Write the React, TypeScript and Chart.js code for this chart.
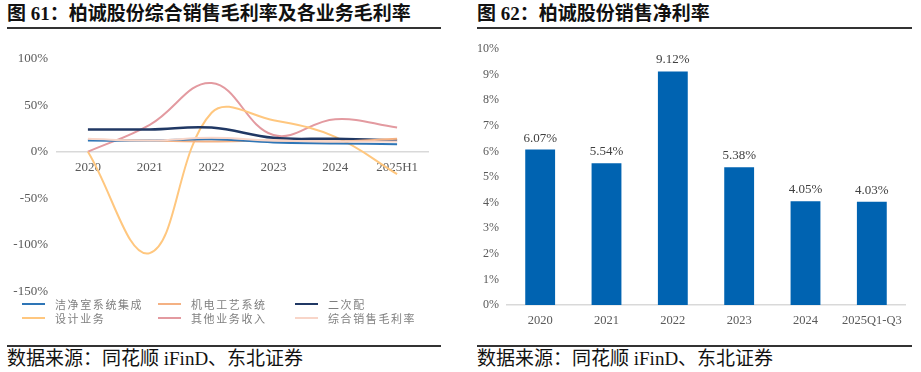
import React, { useEffect, useRef } from "react";
import { Chart, registerables } from "chart.js";

Chart.register(...registerables);

// ---- Left chart data (毛利率, %) ----
const lineCategories = ["2020", "2021", "2022", "2023", "2024", "2025H1"];
const cleanRoom = [12, 12, 13.5, 10, 9, 8];
const mepProcess = [13, 12, 11, 12, 11, 14];
const secondary = [24, 24, 26, 15, 14, 12];
const design = [0, -109, 42, 34, 16, -24];
const otherBiz = [0, 29, 74, 18, 35, 26];
const overall = [14, 12, 15, 12, 11, 11];
const leftYTicks = [100, 50, 0, -50, -100, -150];

// ---- Right chart data (销售净利率, %) ----
const barCategories = ["2020", "2021", "2022", "2023", "2024", "2025Q1-Q3"];
const netMargin = [6.07, 5.54, 9.12, 5.38, 4.05, 4.03];

const seriesNames = ["洁净室系统集成", "机电工艺系统", "二次配", "设计业务", "其他业务收入", "综合销售毛利率"];
const seriesColors = ["#2E75B6", "#F4B183", "#203864", "#FFC77F", "#E39AA0", "#F8D5C8"];

const serif = "'Liberation Serif', 'Times New Roman', serif";
const cjk = "'Liberation Serif', 'Noto Sans CJK SC', serif";

function LineChart() {
  const ref = useRef<HTMLCanvasElement>(null);
  useEffect(() => {
    const data = [cleanRoom, mepProcess, secondary, design, otherBiz, overall];
    const order = [5, 0, 1, 2, 3, 4];
    const chart = new Chart(ref.current!, {
      type: "line",
      data: {
        labels: lineCategories,
        datasets: order.map((i) => ({
          label: seriesNames[i],
          data: data[i],
          borderColor: seriesColors[i],
          backgroundColor: seriesColors[i],
          borderWidth: i === 2 ? 2.5 : 2,
          pointRadius: 0,
          tension: 0.4,
          fill: false,
        })),
      },
      options: {
        animation: false,
        responsive: false,
        maintainAspectRatio: false,
        layout: { padding: { top: 13, right: 12, bottom: 9, left: 0 } },
        plugins: { legend: { display: false }, tooltip: { enabled: false } },
        scales: {
          x: {
            position: { y: 0 } as any,
            offset: true,
            grid: { display: false, drawTicks: false },
            border: { display: true, color: "#D9D9D9", width: 1.5 },
            ticks: { color: "#595959", font: { family: serif, size: 13 }, padding: 8, maxRotation: 0 },
            afterFit: (s: any) => { s.height = 0; },
          },
          y: {
            min: -150,
            max: 100,
            afterBuildTicks: (s: any) => { s.ticks = leftYTicks.map((v) => ({ value: v })); },
            grid: { display: false, drawTicks: false },
            border: { display: false },
            ticks: {
              stepSize: 50,
              color: "#595959",
              font: { family: serif, size: 13 },
              padding: 9,
              callback: (v: any) => v + "%",
            },
            afterFit: (s: any) => { s.width = 57; },
          },
        },
      },
    });
    return () => chart.destroy();
  }, []);
  return <canvas ref={ref} width={440} height={266} style={{ position: "absolute", left: 0, top: 42, width: 440, height: 266 }} />;
}

const barLabelPlugin = {
  id: "barLabels",
  afterDatasetsDraw(chart: any) {
    const ctx = chart.ctx;
    const meta = chart.getDatasetMeta(0);
    ctx.save();
    ctx.font = `13px ${serif}`;
    ctx.fillStyle = "#404040";
    ctx.textAlign = "center";
    ctx.textBaseline = "bottom";
    meta.data.forEach((el: any, i: number) => {
      ctx.fillText(netMargin[i].toFixed(2) + "%", el.x, el.y - 5);
    });
    ctx.restore();
  },
};

function BarChart() {
  const ref = useRef<HTMLCanvasElement>(null);
  useEffect(() => {
    const chart = new Chart(ref.current!, {
      type: "bar",
      data: {
        labels: barCategories,
        datasets: [
          {
            label: "销售净利率",
            data: netMargin,
            backgroundColor: "#0063B1",
            borderColor: "#0063B1",
            borderWidth: 0,
            categoryPercentage: 1,
            barPercentage: 0.45,
          },
        ],
      },
      options: {
        animation: false,
        responsive: false,
        maintainAspectRatio: false,
        layout: { padding: { top: 9, right: 16, bottom: 0, left: 0 } },
        plugins: { legend: { display: false }, tooltip: { enabled: false } },
        scales: {
          x: {
            grid: { display: false, drawTicks: false },
            border: { display: true, color: "#D9D9D9", width: 1.5 },
            ticks: { color: "#595959", font: { family: serif, size: 12.5 }, padding: 8, maxRotation: 0 },
            afterFit: (s: any) => { s.height = 35; s.paddingLeft = 0; s.paddingRight = 0; },
          },
          y: {
            min: 0,
            max: 10,
            grid: { display: false, drawTicks: false },
            border: { display: false },
            ticks: {
              stepSize: 1,
              color: "#595959",
              font: { family: serif, size: 12 },
              padding: 8,
              callback: (v: any) => v + "%",
            },
            afterFit: (s: any) => { s.width = 47; s.paddingTop = 0; s.paddingBottom = 0; },
          },
        },
      },
      plugins: [barLabelPlugin],
    });
    return () => chart.destroy();
  }, []);
  return <canvas ref={ref} width={461} height={300} style={{ position: "absolute", left: 460, top: 40, width: 461, height: 300 }} />;
}

function Legend() {
  const pos = [
    { x: 22, y: 304 },
    { x: 158, y: 304 },
    { x: 295, y: 304 },
    { x: 22, y: 318 },
    { x: 158, y: 318 },
    { x: 295, y: 318 },
  ];
  return (
    <>
      {seriesNames.map((n, i) => (
        <div key={n} style={{ position: "absolute", left: pos[i].x, top: pos[i].y - 8, height: 16, display: "flex", alignItems: "center" }}>
          <div style={{ width: 23, height: 2.5, background: seriesColors[i] }} />
          <span style={{ marginLeft: 10, fontFamily: "'Noto Sans CJK SC', sans-serif", fontSize: 11, letterSpacing: 1.6, color: "#7F7F7F", whiteSpace: "nowrap" }}>{n}</span>
        </div>
      ))}
    </>
  );
}

function Panel({ left, width, title }: { left: number; width: number; title: string }) {
  return (
    <>
      <div style={{ position: "absolute", left, top: 2, fontFamily: cjk, fontWeight: 700, fontSize: 19, color: "#111", whiteSpace: "nowrap", lineHeight: "24px" }}>{title}</div>
      <div style={{ position: "absolute", left, top: 27, width, height: 1.5, background: "#333" }} />
      <div style={{ position: "absolute", left, top: 345, width, height: 1.5, background: "#333" }} />
      <div style={{ position: "absolute", left, top: 347, fontFamily: cjk, fontSize: 19, color: "#111", whiteSpace: "nowrap", lineHeight: "24px" }}>数据来源：同花顺 iFinD、东北证券</div>
    </>
  );
}

export default function App() {
  return (
    <div style={{ position: "absolute", left: 0, top: 0, width: 921, height: 372, background: "#fff", overflow: "hidden" }}>
      <Panel left={7} width={434} title="图 61：柏诚股份综合销售毛利率及各业务毛利率" />
      <Panel left={477} width={435} title="图 62：柏诚股份销售净利率" />
      <LineChart />
      <BarChart />
      <Legend />
    </div>
  );
}
